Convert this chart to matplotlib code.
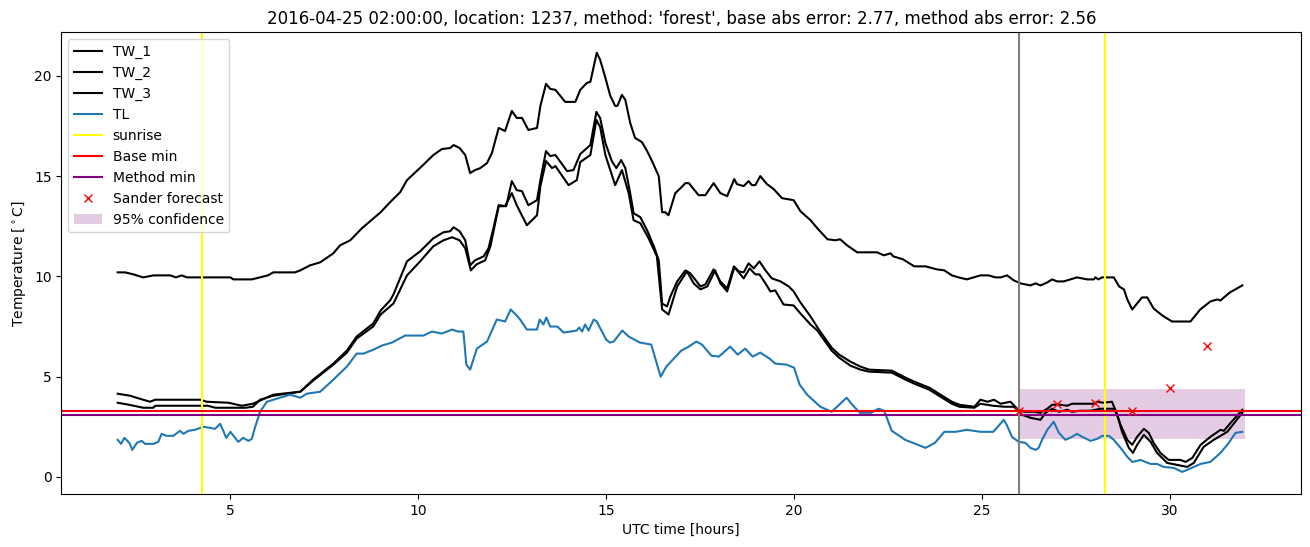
import matplotlib
matplotlib.use("Agg")
import matplotlib.pyplot as plt

# ---------------- data ----------------
tw1_t = [2.0, 2.2, 2.42, 2.68, 2.95, 3.4, 3.55, 3.7, 3.85, 5.0, 5.08, 5.57, 5.79, 6.0, 6.14, 6.72, 6.86,
         7.12, 7.39, 7.74, 7.92, 8.19, 8.5, 8.75, 9.0, 9.25, 9.52, 9.7, 9.87, 10.1, 10.4, 10.63, 10.85,
         10.94, 11.1, 11.25, 11.38, 11.51, 11.65, 11.83, 11.96, 12.14, 12.31, 12.49, 12.62, 12.76, 12.93,
         13.16, 13.25, 13.4, 13.51, 13.65, 13.91, 14.18, 14.31, 14.49, 14.58, 14.75, 14.84, 14.98, 15.11,
         15.24, 15.3, 15.42, 15.51, 15.64, 15.77, 15.95, 16.09, 16.22, 16.4, 16.49, 16.57, 16.66, 16.84,
         16.98, 17.11, 17.2, 17.46, 17.64, 17.86, 18.04, 18.22, 18.41, 18.48, 18.66, 18.79, 18.88, 18.97,
         19.1, 19.28, 19.46, 19.68, 19.99, 20.17, 20.44, 20.62, 20.89, 21.1, 21.23, 21.41, 21.68, 22.21,
         22.39, 22.57, 22.64, 22.9, 23.2, 23.5, 23.8, 24.0, 24.2, 24.38, 24.6, 24.78, 24.96, 25.18, 25.36,
         25.5, 25.67, 25.85, 26.03, 26.29, 26.43, 26.56, 26.74, 26.87, 27.0, 27.18, 27.36, 27.53, 27.8,
         27.98, 28.02, 28.1, 28.2, 28.51, 28.65, 28.78, 28.87, 29.0, 29.13, 29.26, 29.4, 29.57, 29.8,
         30.06, 30.55, 30.81, 31.08, 31.26, 31.35, 31.44, 31.6, 31.93]
tw1_v = [10.2, 10.2, 10.1, 9.95, 10.05, 10.05, 9.95, 10.05, 9.95, 9.95, 9.85, 9.85, 9.95, 10.05, 10.2, 10.2,
         10.3, 10.55, 10.7, 11.15, 11.55, 11.8, 12.4, 12.8, 13.2, 13.7, 14.2, 14.8, 15.1, 15.5, 16.05,
         16.35, 16.4, 16.55, 16.4, 16.05, 15.15, 15.3, 15.4, 15.65, 16.15, 17.4, 17.25, 18.25, 17.9, 17.9,
         17.3, 17.4, 18.5, 19.6, 19.35, 19.3, 18.7, 18.7, 19.3, 19.65, 19.7, 21.15, 20.8, 19.9, 19.0, 18.5,
         18.5, 19.05, 18.8, 17.65, 16.9, 16.7, 16.25, 15.75, 15.0, 13.2, 13.2, 13.05, 14.15, 14.4, 14.65,
         14.65, 14.05, 14.05, 14.65, 14.15, 14.0, 14.85, 14.6, 14.5, 14.75, 14.55, 14.55, 15.0, 14.6, 14.35,
         13.9, 13.8, 13.25, 12.8, 12.4, 11.85, 11.8, 11.85, 11.55, 11.2, 11.2, 11.05, 11.15, 11.0, 10.85,
         10.5, 10.5, 10.35, 10.3, 10.05, 9.95, 9.85, 9.95, 10.05, 10.05, 9.95, 9.95, 10.05, 9.8, 9.65,
         9.55, 9.65, 9.55, 9.7, 9.85, 9.75, 9.75, 9.85, 9.95, 9.85, 9.85, 9.95, 9.85, 9.95, 9.95, 9.5,
         9.35, 8.85, 8.35, 8.65, 8.95, 8.95, 8.4, 8.05, 7.75, 7.75, 8.35, 8.75, 8.85, 8.8, 8.95, 9.2, 9.55]

tw2_t = [2.0, 2.33, 2.5, 2.86, 3.0, 4.2, 4.37, 4.95, 5.3, 5.6, 5.9, 6.14, 6.86, 7.2, 7.74, 8.1, 8.36, 8.8,
         9.0, 9.25, 9.34, 9.7, 10.05, 10.4, 10.67, 10.85, 10.94, 11.1, 11.25, 11.38, 11.51, 11.74, 11.87,
         12.0, 12.14, 12.34, 12.49, 12.62, 12.76, 12.93, 13.16, 13.25, 13.4, 13.51, 13.65, 13.96, 14.13,
         14.31, 14.58, 14.74, 14.84, 14.98, 15.15, 15.27, 15.4, 15.51, 15.64, 15.73, 15.91, 16.09, 16.27,
         16.4, 16.49, 16.62, 16.71, 16.89, 17.11, 17.24, 17.51, 17.64, 17.86, 18.04, 18.22, 18.4, 18.53,
         18.66, 18.79, 18.93, 19.08, 19.24, 19.41, 19.64, 19.86, 19.99, 20.17, 20.44, 20.66, 21.0, 21.2,
         21.5, 21.77, 22.0, 22.6, 22.97, 23.2, 23.6, 23.9, 24.2, 24.4, 24.8, 24.96, 25.15, 25.32, 25.5,
         25.76, 25.94, 26.12, 26.38, 26.56, 26.74, 26.87, 27.09, 27.27, 27.4, 27.98, 28.07, 28.24, 28.46,
         28.55, 28.69, 28.87, 29.0, 29.13, 29.31, 29.44, 29.57, 29.75, 29.97, 30.28, 30.42, 30.6, 30.82,
         31.08, 31.35, 31.44, 31.62, 31.93]
tw2_v = [4.15, 4.05, 3.95, 3.75, 3.85, 3.85, 3.75, 3.7, 3.55, 3.65, 3.9, 4.1, 4.25, 4.85, 5.65, 6.3, 7.0,
         7.65, 8.3, 8.8, 9.1, 10.75, 11.25, 11.9, 12.2, 12.25, 12.45, 12.25, 11.8, 10.55, 10.8, 11.0, 11.4,
         12.4, 13.55, 13.5, 14.75, 14.3, 14.25, 13.55, 13.8, 14.8, 16.25, 16.0, 16.05, 15.25, 15.3, 16.1,
         16.55, 18.2, 17.9, 16.65, 15.75, 15.4, 15.8, 15.4, 14.15, 13.15, 12.95, 12.3, 11.5, 10.8, 8.65,
         8.5, 9.0, 9.75, 10.3, 10.15, 9.5, 9.6, 10.35, 9.75, 9.4, 10.5, 10.25, 10.2, 10.65, 10.4, 10.75,
         10.3, 9.9, 9.75, 9.5, 9.25, 8.7, 8.0, 7.35, 6.45, 6.1, 5.75, 5.5, 5.35, 5.3, 4.95, 4.75, 4.45,
         4.1, 3.75, 3.6, 3.5, 3.85, 3.75, 3.85, 3.65, 3.75, 3.4, 3.25, 3.25, 3.2, 3.4, 3.6, 3.6, 3.55,
         3.65, 3.65, 3.75, 3.7, 3.75, 3.35, 2.6, 1.85, 1.6, 2.0, 2.4, 2.2, 1.7, 1.2, 0.85, 0.85, 0.75,
         0.95, 1.6, 2.0, 2.35, 2.3, 2.7, 3.35]

tw3_t = [2.0, 2.3, 2.68, 2.95, 3.0, 4.4, 4.6, 5.4, 5.6, 5.79, 6.14, 6.86, 7.2, 7.74, 8.1, 8.36, 8.8, 9.0,
         9.34, 9.7, 10.05, 10.4, 10.67, 10.9, 11.1, 11.25, 11.4, 11.55, 11.78, 11.92, 12.14, 12.31, 12.49,
         12.62, 12.89, 13.16, 13.25, 13.4, 13.56, 13.65, 14.0, 14.22, 14.31, 14.58, 14.74, 14.84, 14.98,
         15.24, 15.42, 15.6, 15.73, 15.91, 16.13, 16.35, 16.49, 16.66, 16.89, 17.15, 17.33, 17.51, 17.69,
         17.9, 18.04, 18.22, 18.41, 18.53, 18.66, 18.82, 18.97, 19.08, 19.24, 19.37, 19.5, 19.72, 19.99,
         20.17, 20.44, 20.62, 21.0, 21.2, 21.5, 21.77, 22.0, 22.6, 22.97, 23.2, 23.6, 23.9, 24.2, 24.4,
         24.8, 24.96, 25.3, 25.6, 25.85, 26.07, 26.29, 26.56, 26.69, 26.87, 27.05, 27.27, 27.4, 27.6,
         27.89, 28.15, 28.51, 28.6, 28.73, 28.91, 29.02, 29.13, 29.31, 29.49, 29.66, 29.93, 30.2, 30.46,
         30.64, 30.9, 31.17, 31.53, 31.93]
tw3_v = [3.7, 3.6, 3.45, 3.45, 3.55, 3.55, 3.45, 3.45, 3.5, 3.85, 4.05, 4.25, 4.8, 5.6, 6.2, 6.9, 7.5, 8.1,
         8.65, 10.05, 10.75, 11.5, 11.8, 11.95, 11.8, 11.4, 10.3, 10.6, 10.8, 11.5, 13.5, 13.5, 14.15,
         13.55, 12.55, 13.05, 14.5, 15.75, 15.4, 15.5, 14.55, 14.8, 15.7, 16.05, 17.8, 17.45, 16.05, 14.55,
         15.3, 14.15, 12.8, 12.65, 11.9, 11.0, 8.35, 8.1, 9.5, 10.25, 9.65, 9.35, 9.5, 10.3, 9.65, 9.25,
         10.45, 10.2, 9.9, 10.4, 10.1, 10.1, 9.65, 9.25, 9.3, 8.6, 8.55, 8.15, 7.6, 7.3, 6.3, 5.95, 5.55,
         5.35, 5.25, 5.2, 4.85, 4.65, 4.35, 4.0, 3.65, 3.5, 3.45, 3.65, 3.55, 3.5, 3.5, 3.1, 2.95, 2.85,
         3.2, 3.4, 3.25, 3.35, 3.25, 3.3, 3.3, 3.4, 3.4, 3.1, 2.25, 1.45, 1.2, 1.6, 2.1, 1.75, 1.2, 0.7,
         0.6, 0.5, 0.7, 1.5, 1.85, 2.25, 3.2]

tl_t = [2.0, 2.09, 2.18, 2.31, 2.39, 2.51, 2.64, 2.73, 2.95, 3.08, 3.17, 3.3, 3.48, 3.66, 3.75, 3.88, 4.06,
        4.2, 4.28, 4.46, 4.59, 4.73, 4.89, 5.0, 5.21, 5.34, 5.48, 5.57, 5.66, 5.79, 5.97, 6.23, 6.59, 6.86,
        7.03, 7.39, 7.74, 8.1, 8.36, 8.54, 8.81, 9.03, 9.3, 9.65, 10.14, 10.36, 10.63, 10.9, 11.06, 11.2,
        11.28, 11.38, 11.56, 11.83, 12.09, 12.31, 12.46, 12.62, 12.71, 12.89, 13.16, 13.23, 13.33, 13.41,
        13.51, 13.7, 13.87, 14.04, 14.22, 14.28, 14.36, 14.44, 14.53, 14.67, 14.75, 15.0, 15.1, 15.2, 15.43,
        15.6, 15.9, 16.2, 16.45, 16.6, 17.0, 17.2, 17.4, 17.55, 17.8, 18.0, 18.3, 18.5, 18.7, 18.9, 19.1,
        19.35, 19.5, 19.8, 20.0, 20.15, 20.35, 20.7, 21.0, 21.2, 21.4, 21.55, 21.75, 22.05, 22.25, 22.4,
        22.6, 22.96, 23.5, 23.75, 24.0, 24.3, 24.6, 24.96, 25.3, 25.4, 25.58, 25.66, 25.8, 25.98, 26.16,
        26.29, 26.43, 26.51, 26.6, 26.74, 26.91, 27.05, 27.22, 27.4, 27.53, 27.67, 27.89, 28.07, 28.2,
        28.38, 28.51, 28.69, 28.87, 29.0, 29.13, 29.22, 29.35, 29.49, 29.66, 29.84, 30.11, 30.33, 30.46,
        30.64, 30.82, 31.08, 31.35, 31.57, 31.75, 31.93]
tl_v = [1.85, 1.65, 1.95, 1.7, 1.35, 1.7, 1.8, 1.65, 1.65, 1.75, 2.15, 2.05, 2.05, 2.3, 2.15, 2.3, 2.35,
        2.45, 2.5, 2.45, 2.4, 2.65, 1.95, 2.25, 1.75, 1.95, 1.8, 1.9, 2.5, 3.25, 3.75, 3.9, 4.1, 3.95, 4.15,
        4.25, 4.85, 5.5, 6.15, 6.15, 6.35, 6.55, 6.7, 7.05, 7.05, 7.25, 7.15, 7.35, 7.25, 7.25, 5.6, 5.35,
        6.4, 6.75, 7.85, 7.75, 8.35, 8.05, 7.85, 7.35, 7.35, 7.85, 7.6, 7.95, 7.5, 7.5, 7.2, 7.25, 7.3,
        7.45, 7.25, 7.6, 7.3, 7.85, 7.75, 6.85, 6.7, 6.75, 7.3, 7.0, 6.7, 6.6, 5.0, 5.5, 6.3, 6.5, 6.75,
        6.6, 6.05, 6.0, 6.5, 6.1, 6.4, 6.0, 6.2, 5.9, 5.65, 5.6, 5.45, 4.6, 4.1, 3.5, 3.25, 3.6, 3.95,
        3.6, 3.2, 3.2, 3.4, 3.3, 2.3, 1.85, 1.45, 1.7, 2.25, 2.25, 2.35, 2.25, 2.25, 2.45, 2.85, 2.6, 2.0,
        1.75, 1.7, 1.45, 1.35, 1.45, 1.85, 2.35, 2.75, 2.2, 1.85, 2.0, 2.15, 2.0, 1.8, 1.9, 2.05, 2.05,
        1.85, 1.45, 1.0, 0.75, 0.8, 0.85, 0.75, 0.65, 0.65, 0.5, 0.45, 0.25, 0.35, 0.5, 0.65, 0.75, 1.2,
        1.7, 2.2, 2.25]

sunrise_hours = [4.25, 28.27]
forecast_start = 26.0
base_min = 3.3
method_min = 3.1
forecast_hours = [26, 27, 28, 29, 30, 31]
forecast_values = [3.3, 3.65, 3.7, 3.3, 4.45, 6.55]
conf_hours = [26.0, 32.0]
conf_low = [1.9, 1.9]
conf_high = [4.4, 4.4]

title = ("2016-04-25 02:00:00, location: 1237, method: 'forest', "
         "base abs error: 2.77, method abs error: 2.56")

# ---------------- plot ----------------
fig = plt.figure(figsize=(13.1, 5.47), dpi=100)
ax = fig.add_axes([61.3 / 1310, 53 / 547, 1240 / 1310, 461.7 / 547])

ax.plot(tw1_t, tw1_v, color="black", label="TW_1")
ax.plot(tw2_t, tw2_v, color="black", label="TW_2")
ax.plot(tw3_t, tw3_v, color="black", label="TW_3")
ax.plot(tl_t, tl_v, color="tab:blue", label="TL")
for i, s in enumerate(sunrise_hours):
    ax.axvline(s, color="yellow", label="sunrise" if i == 0 else None)
ax.axhline(base_min, color="red", label="Base min")
ax.axhline(method_min, color="purple", label="Method min")
ax.axvline(forecast_start, color="gray")
ax.plot(forecast_hours, forecast_values, "x", color="red", label="Sander forecast")
ax.fill_between(conf_hours, conf_low, conf_high, color="purple", alpha=0.2, linewidth=0,
                label="95% confidence")

ax.set_xlim(0.5, 33.5)
ax.set_ylim(-0.85, 22.17)
ax.set_xlabel("UTC time [hours]")
ax.set_ylabel(r"Temperature [$^\circ$C]")
ax.set_title(title)
ax.legend(loc="upper left")

fig.savefig("out.png", dpi=100)
